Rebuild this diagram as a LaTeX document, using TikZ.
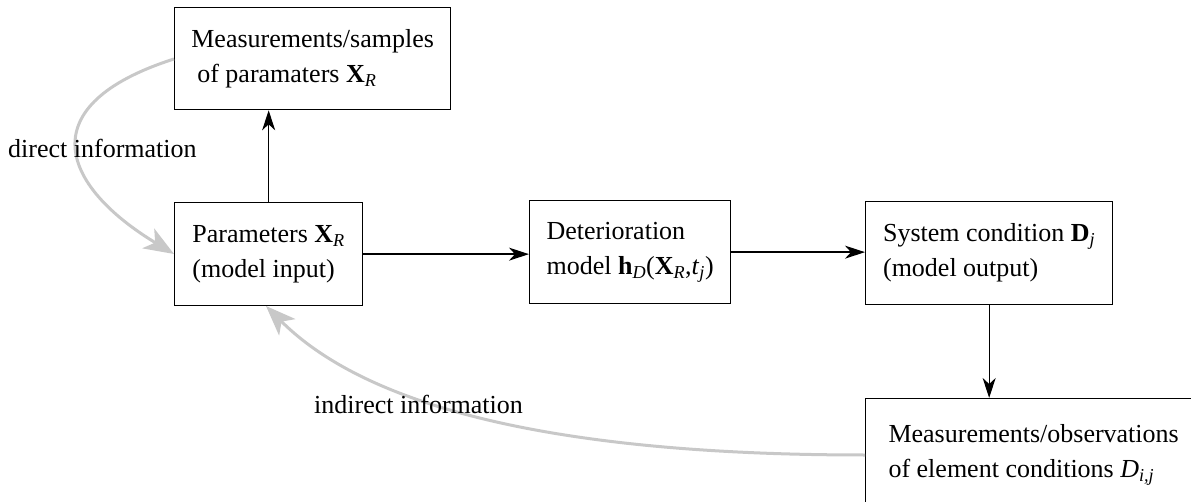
\documentclass[tikz,border=0pt]{standalone}
\usepackage{fontspec}
\setmainfont{Liberation Serif}
\usetikzlibrary{arrows.meta}
\definecolor{infogray}{RGB}{200,200,200}
% bold symbol with italic subscript, set in the text font
\newcommand{\bsym}[2]{\textbf{#1}\textsubscript{\textit{#2}}}
\begin{document}
\begin{tikzpicture}[x=1pt,y=-1pt,
  every node/.style={font=\fontsize{26}{35}\selectfont},
  box/.style={draw, line width=1.3pt, align=left, anchor=north west, inner sep=0pt},
  flow/.style={line width=1.3pt, -{Stealth[length=20pt,width=13pt,inset=6pt]}},
  info/.style={draw=infogray, line width=3pt, -{Stealth[length=30pt,width=23pt,inset=8pt]}},
  lbl/.style={inner sep=0pt}]
  \useasboundingbox (0,0) rectangle (1191,502);
  \begin{scope}
    \clip (0,0) rectangle (1191,502);
    % boxes of the model chain
    \node[box, minimum width=276pt, minimum height=102pt] (meas) at (174,7)
      {Measurements/samples\\\hspace{6pt}of paramaters \bsym{X}{R}};
    \node[box, minimum width=188pt, minimum height=103pt] (par) at (174,202)
      {Parameters \bsym{X}{R}\\(model input)};
    \node[box, minimum width=201pt, minimum height=103pt] (det) at (529,200)
      {Deterioration\\model \bsym{h}{D}(\bsym{X}{R},\textit{t}\textsubscript{\textit{j}})};
    \node[box, minimum width=247pt, minimum height=103pt] (sys) at (865,201)
      {System condition \bsym{D}{j}\\(model output)};
    \node[box, minimum width=336pt, minimum height=112pt] (obs) at (865,398)
      {Measurements/observations\\of element conditions \textit{D}\textsubscript{\textit{i,j}}};
  \end{scope}
  % model flow
  \draw[flow] (par.north) -- (par.north |- meas.south);
  \draw[flow] (par.east) -- (par.east -| det.west);
  \draw[flow] (det.east) -- (det.east -| sys.west);
  \draw[flow] (sys.south) -- (sys.south |- obs.north);
  % information feedback
  \coordinate (dstart) at (174,59);
  \coordinate (dend) at (174,254);
  \draw[info] (dstart) .. controls (30,105) and (60,185) .. (dend);
  \coordinate (istart) at (865,455);
  \coordinate (iend) at (266,306);
  \draw[info] (istart) .. controls (600,455) and (380,420) .. (iend);
  % labels
  \node[lbl, anchor=base west] (dlab) at (8,158) {direct information};
  \node[lbl, anchor=base west] (ilab) at (314,413) {indirect information};
\end{tikzpicture}
\end{document}
